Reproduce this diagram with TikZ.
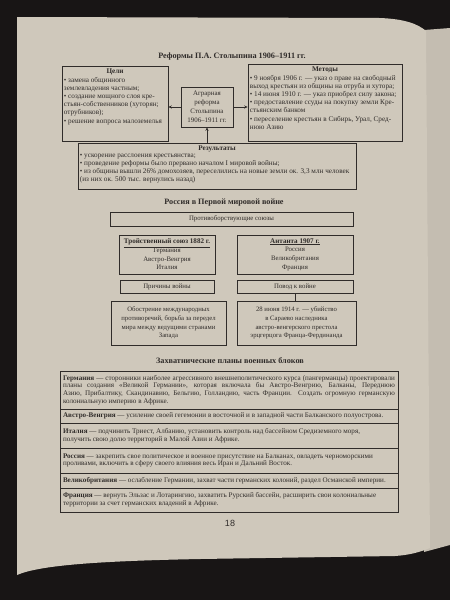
\documentclass[tikz,border=0pt]{standalone}
\usepackage{fontspec}
\setmainfont{Liberation Serif}
\newfontfamily\pagenumfont{Liberation Sans}
\usetikzlibrary{arrows.meta,calc}
\definecolor{paper}{RGB}{207,200,187}
\definecolor{paperB}{RGB}{196,189,177}
\definecolor{ink}{RGB}{48,44,42}
\definecolor{bgdark}{RGB}{24,21,21}
\begin{document}
\begin{tikzpicture}[x=1pt,y=-1pt,
  every node/.style={text=ink, inner sep=0pt},
  frame/.style={draw=ink, line width=0.55pt},
  body/.style={font=\fontsize{7.2}{8.2}\selectfont},
  head/.style={font=\bfseries\fontsize{8.2}{10}\selectfont},
  arr/.style={draw=ink, line width=0.6pt, -{Stealth[length=3.5pt,width=3pt]}},
  link/.style={draw=ink, line width=0.55pt},
  tabrow/.style={draw=ink, line width=0.9pt, outer sep=0pt, font=\fontsize{7.1}{7.8}\selectfont,
     text width=332pt, inner xsep=3pt, inner ysep=2pt, align=justify, anchor=north west}
]
\useasboundingbox (0,0) rectangle (450,600);
% background and page
\fill[bgdark] (0,0) rectangle (450,600);
\fill[paperB] (424,30) -- (450,28) -- (450,545) -- (424,552) -- cycle;
\fill[paper] (17,17) -- (380,18) .. controls (405,19) and (418,24) .. (426,31)
  -- (430,548) .. controls (420,552) and (410,555) .. (395,556)
  -- (200,559) .. controls (100,561) and (40,565) .. (17,575) -- cycle;

% ---------- Section 1 ----------
\node[head] (t1) at (232,57) {Реформы П.А. Столыпина 1906–1911 гг.};

\node[frame, minimum width=106pt, minimum height=75pt] (goals) at (115,103.5) {};
\node[body, anchor=north, align=center] (goalsh) at ($(goals.north)+(0,3)$) {\textbf{Цели}};
\node[body, anchor=north west, align=left] (goalst) at ($(goals.north west)+(2,11)$)
 {• замена общинного\\землевладения частным;\\• создание мощного слоя кре-\\стьян-собственников (хуторян;\\отрубников);\\• решение вопроса малоземелья};

\node[frame, minimum width=52pt, minimum height=40pt, body, align=center,
  font=\fontsize{6.9}{9}\selectfont] (agr) at (207,107)
 {Аграрная\\реформа\\Столыпина\\1906–1911 гг.};

\node[frame, minimum width=154pt, minimum height=77pt] (methods) at (325,102.5) {};
\node[body, anchor=north, align=center] (methodsh) at ($(methods.north)+(0,3)$) {\textbf{Методы}};
\node[body, anchor=north west, align=left] (methodst) at ($(methods.north west)+(2,11)$)
 {• 9 ноября 1906 г. — указ о праве на свободный\\выход крестьян из общины на отруба и хутора;\\• 14 июня 1910 г. — указ приобрел силу закона;\\• предоставление ссуды на покупку земли Кре-\\стьянским банком\\• переселение крестьян в Сибирь, Урал, Сред-\\нюю Азию};

\node[frame, minimum width=278pt, minimum height=46pt] (res) at (217,166) {};
\node[body, anchor=north, align=center] (resh) at ($(res.north)+(0,3)$) {\textbf{Результаты}};
\node[body, anchor=north west, align=left] (rest) at ($(res.north west)+(2,11)$)
 {• ускорение расслоения крестьянства;\\• проведение реформы было прервано началом I мировой войны;\\• из общины вышли 26\% домохозяев, переселились на новые земли ок. 3,3 млн человек\\(из них ок. 500 тыс. вернулись назад)};

\draw[arr] (agr.west) -- (goals.east |- agr.west);
\draw[arr] (agr.east) -- (methods.west |- agr.east);
\draw[arr] (agr.south |- res.north) -- (agr.south);

% ---------- Section 2 ----------
\node[head] (t2) at (224,203) {Россия в Первой мировой войне};
\node[frame, minimum width=243pt, minimum height=14pt, body, font=\fontsize{6.8}{8}\selectfont] (unions) at (231.5,219) {Противоборствующие союзы};
\node[frame, minimum width=96pt, minimum height=39pt, body, align=center,
  font=\fontsize{6.8}{8.7}\selectfont] (tri) at (167,254.5)
 {\underline{\textbf{\fontsize{7.1}{8.7}\selectfont Тройственный союз 1882 г.}}\\Германия\\Австро-Венгрия\\Италия};
\node[frame, minimum width=116pt, minimum height=39pt, body, align=center,
  font=\fontsize{6.8}{8.7}\selectfont] (ent) at (295,254.5)
 {\underline{\textbf{\fontsize{7.1}{8.7}\selectfont Антанта 1907 г.}}\\Россия\\Великобритания\\Франция};
\draw[link] ($(tri.north)+(4,0)$) -- ($(tri.north)+(4,0)$ |- unions.south);
\draw[link] ($(ent.north)+(-10,0)$) -- ($(ent.north)+(-10,0)$ |- unions.south);

\node[frame, minimum width=94pt, minimum height=13pt, body, font=\fontsize{6.8}{8}\selectfont] (cause) at (167,286.5) {Причины войны};
\node[frame, minimum width=116pt, minimum height=13pt, body, font=\fontsize{6.8}{8}\selectfont] (pretext) at (295,286.5) {Повод к войне};

\node[frame, minimum width=115pt, minimum height=44pt, align=center,
  font=\fontsize{6.7}{8.8}\selectfont] (causet) at (168.5,323)
 {Обострение международных\\противоречий, борьба за передел\\мира между ведущими странами\\Запада};
\node[frame, minimum width=119pt, minimum height=44pt, align=center,
  font=\fontsize{6.7}{8.8}\selectfont] (pretextt) at (296.5,323)
 {28 июня 1914 г. — убийство\\в Сараево наследника\\австро-венгерского престола\\эрцгерцога Франца-Фердинанда};
\draw[link] (pretext.south) -- (pretext.south |- pretextt.north);

% ---------- Section 3 ----------
\node[head] (t3) at (230,361) {Захватнические планы военных блоков};

\node[tabrow, minimum height=38pt] (r1) at (60,371)
 {\textbf{Германия} — сторонники наиболее агрессивного внешнеполитического курса (пангерманцы) проектировали\linebreak планы создания «Великой Германии», которая включала бы Австро-Венгрию, Балканы, Переднюю\linebreak Азию, Прибалтику, Скандинавию, Бельгию, Голландию, часть Франции. Создать огромную германскую\linebreak колониальную империю в Африке.};
\node[tabrow, minimum height=14pt] (r2) at (r1.south west)
 {\textbf{Австро-Венгрия} — усиление своей гегемонии в восточной и в западной части Балканского полуострова.};
\node[tabrow, minimum height=25pt] (r3) at (r2.south west)
 {\textbf{Италия} — подчинить Триест, Албанию, установить контроль над бассейном Средиземного моря,\\получить свою долю территорий в Малой Азии и Африке.};
\node[tabrow, minimum height=25pt] (r4) at (r3.south west)
 {\textbf{Россия} — закрепить свое политическое и военное присутствие на Балканах, овладеть черноморскими\\проливами, включить в сферу своего влияния весь Иран и Дальний Восток.};
\node[tabrow, minimum height=15pt] (r5) at (r4.south west)
 {\textbf{Великобритания} — ослабление Германии, захват части германских колоний, раздел Османской империи.};
\node[tabrow, minimum height=24pt] (r6) at (r5.south west)
 {\textbf{Франция} — вернуть Эльзас и Лотарингию, захватить Рурский бассейн, расширить свои колониальные\\территории за счет германских владений в Африке.};

\node[font=\pagenumfont\fontsize{9}{10}\selectfont] (pnum) at (230,523) {18};
\end{tikzpicture}
\end{document}
